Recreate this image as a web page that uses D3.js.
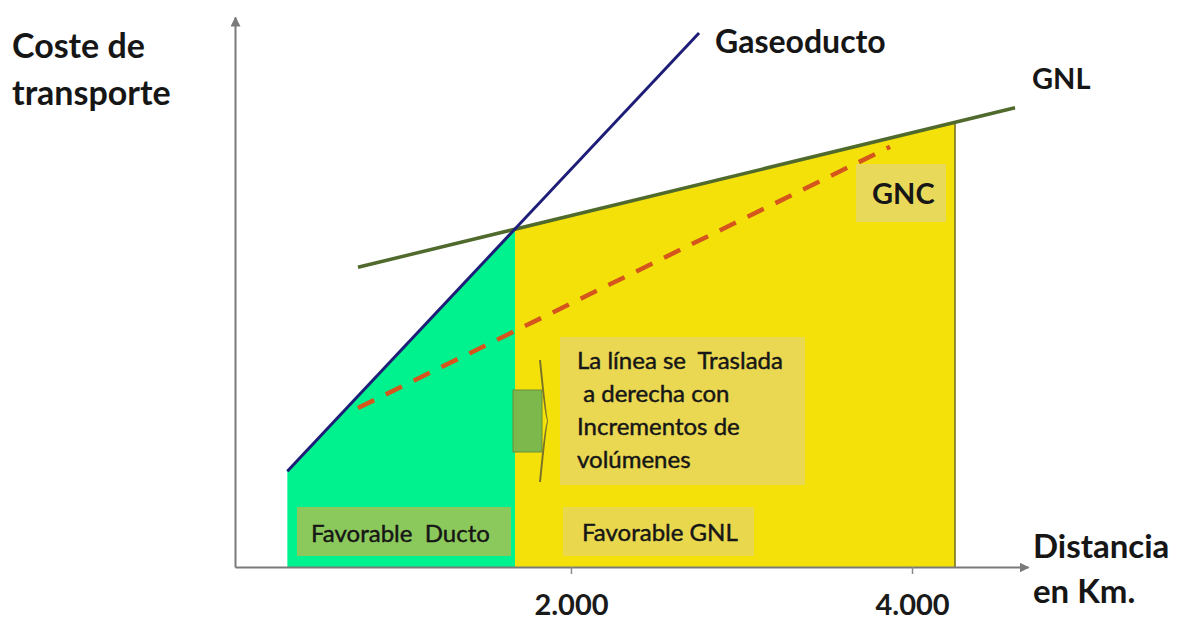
<!DOCTYPE html>
<html>
<head>
<meta charset="utf-8">
<script src="https://cdn.jsdelivr.net/npm/d3@7"></script>
<style>
  body { margin: 0; background: #fff; }
  svg { display: block; font-family: Lato, "Open Sans", sans-serif; }
</style>
</head>
<body>
<div id="chart"></div>
<script>
// values (x in km, y in arbitrary cost units 0-100)
const xTicks = [2000, 4000];
const gaseoducto = [[337, 17.4], [2751, 97.1]];
const gnl = [[751, 54.5], [4604, 83.5]];
const gnc = [[751, 28.9], [3871, 76.4]];
const zonaDucto = [[337, 17.4], [1672, 61.4]];
const zonaGnl = [[1672, 61.4], [4252, 80.8]];
const textoCaja = ["La línea se  Traslada", " a derecha con", "Incrementos de", "volúmenes"];

const w = 1178, h = 622;

const xScale = d3.scaleLinear().domain([30, 4680]).range([235, 1028]);
const yScale = d3.scaleLinear().domain([0, 100]).range([567, 17]);

const es = d3.formatLocale({decimal: ",", thousands: ".", grouping: [3], currency: ["", "€"]});

const svg = d3.select("#chart").append("svg")
              .attr("width", w).attr("height", h);

svg.append("defs").append("marker")
   .attr("id", "flecha")
   .attr("viewBox", "0 0 10 10")
   .attr("refX", 9).attr("refY", 5)
   .attr("markerWidth", 5).attr("markerHeight", 5)
   .attr("orient", "auto")
   .append("path").attr("d", "M0,0L10,5L0,10Z").attr("fill", "#7a7a7a");

const area = d3.area()
               .x(d => xScale(d[0]))
               .y0(yScale(0))
               .y1(d => yScale(d[1]));
const line = d3.line().x(d => xScale(d[0])).y(d => yScale(d[1]));

// zones
svg.append("path").datum(zonaDucto).attr("d", area).attr("fill", "#00f28e");
svg.append("path").datum(zonaGnl).attr("d", area).attr("fill", "#f5e10a");
svg.append("line")
   .attr("x1", xScale(zonaGnl[1][0])).attr("x2", xScale(zonaGnl[1][0]))
   .attr("y1", yScale(0)).attr("y2", yScale(zonaGnl[1][1]))
   .attr("stroke", "#6e6a1e").attr("stroke-width", 1.5);

// lines
svg.append("path").datum(gnc).attr("d", line)
   .attr("fill", "none").attr("stroke", "#d4561c").attr("stroke-width", 4.5)
   .attr("stroke-dasharray", "18 13");
svg.append("path").datum(gnl).attr("d", line)
   .attr("fill", "none").attr("stroke", "#4f6a2c").attr("stroke-width", 3.5);
svg.append("path").datum(gaseoducto).attr("d", line)
   .attr("fill", "none").attr("stroke", "#1e1e78").attr("stroke-width", 3);

// axes
const xAxis = d3.axisBottom(xScale).tickValues(xTicks)
                .tickFormat(es.format(",")).tickSizeInner(7).tickSizeOuter(0).tickPadding(20);
const yAxis = d3.axisLeft(yScale).tickValues([]).tickSizeOuter(0);

const gx = svg.append("g").attr("transform", "translate(0," + yScale(0) + ")").call(xAxis);
const gy = svg.append("g").attr("transform", "translate(" + xScale(30) + ",0)").call(yAxis);

[gx, gy].forEach(g => {
  g.select(".domain").attr("stroke", "#7a7a7a").attr("stroke-width", 2)
   .attr("marker-end", "url(#flecha)");
  g.selectAll(".tick line").attr("stroke", "#8a8a8a").attr("stroke-width", 1.5);
});
gx.selectAll(".tick text")
  .attr("font-family", "Lato, sans-serif").attr("font-weight", 700)
  .attr("font-size", 29).attr("fill", "#1a1a1a");

// text boxes
const cajas = [
  {x: 297, y: 507, w: 214, h: 49, fill: "#8cc95c"},
  {x: 563, y: 507, w: 191, h: 49, fill: "#e9d84e"},
  {x: 560, y: 337, w: 245, h: 148, fill: "#ead853"},
  {x: 856, y: 164, w: 90, h: 58, fill: "#e9d95a"}
];
svg.selectAll("rect.caja").data(cajas).enter().append("rect")
   .attr("class", "caja")
   .attr("x", d => d.x).attr("y", d => d.y)
   .attr("width", d => d.w).attr("height", d => d.h)
   .attr("fill", d => d.fill);

// block arrow
svg.append("rect").attr("x", 513).attr("y", 390).attr("width", 29).attr("height", 62)
   .attr("fill", "#7db84c").attr("stroke", "#6b8e3a").attr("stroke-width", 1);
svg.append("path").attr("d", "M540,360Q546,421 548,421Q546,421 540,482")
   .attr("fill", "none").attr("stroke", "#7a7428").attr("stroke-width", 2);

function label(x, y, txt, size, weight, anchor) {
  const t = svg.append("text").attr("x", x).attr("y", y)
     .attr("font-size", size).attr("font-weight", weight || 700)
     .attr("text-anchor", anchor || "start")
     .attr("fill", "#161616").style("white-space", "pre")
     .text(txt);
  // regular text in the source looks heavier, thicken it a little
  if (weight === 400) t.attr("stroke", "#161616").attr("stroke-width", 0.45);
}

label(12, 58, "Coste de", 34);
label(12, 105, "transporte", 34);
label(715, 53, "Gaseoducto", 32);
label(1032, 89, "GNL", 29);
label(872, 204, "GNC", 29);
label(1033, 558, "Distancia", 33);
label(1033, 603, "en Km.", 33);
label(311, 542, "Favorable  Ducto", 24, 400);
label(582, 541, "Favorable GNL", 24, 400);
textoCaja.forEach((t, i) => label(577, 369 + i * 33, t, 24, 400));
</script>
</body>
</html>
